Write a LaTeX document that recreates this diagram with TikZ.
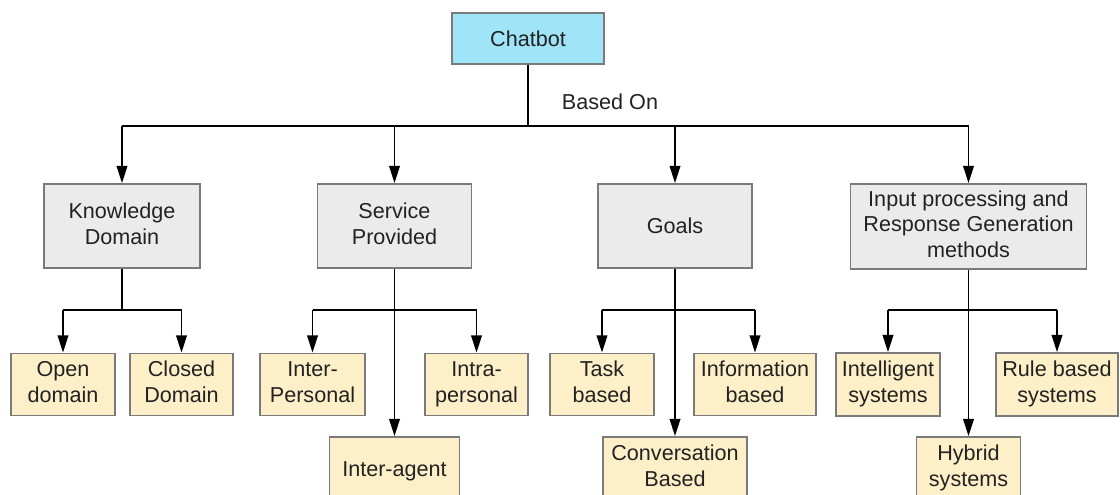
\documentclass[tikz,border=0pt]{standalone}
\usepackage{fontspec}
\setmainfont{Liberation Sans}
\usetikzlibrary{arrows.meta}
\definecolor{topfill}{HTML}{9FE4F7}
\definecolor{midfill}{HTML}{EBEBEB}
\definecolor{leaffill}{HTML}{FDF0C8}
\definecolor{boxline}{HTML}{7A7A7A}
\definecolor{txt}{HTML}{222222}
\newcommand\boxstrut{\rule[-3.9pt]{0pt}{19.2pt}}
\tikzset{
  box/.style={draw=boxline, line width=1.3pt, rectangle, inner sep=0pt, align=center,
    text=txt, font=\fontsize{16.2}{19.2}\selectfont,
    execute at begin node=\boxstrut, execute at end node=\boxstrut},
  topbox/.style={box, fill=topfill},
  midbox/.style={box, fill=midfill},
  leafbox/.style={box, fill=leaffill},
  conn/.style={draw=black, line width=1.4pt},
  arr/.style={conn, -{Triangle[length=13pt,width=8pt]}},
}
\begin{document}
\begin{tikzpicture}[x=0.75pt,y=-0.75pt]
\useasboundingbox (0,0) rectangle (1120,495);
\clip (0,0) rectangle (1120,495);
% top
\node[topbox, minimum width=152*0.75pt, minimum height=51*0.75pt] (chat) at (528,38.5) {Chatbot};
\node[text=txt, font=\fontsize{16.2}{19.2}\selectfont] (basedon) at (610,102) {Based On};
% level 2
\node[midbox, minimum width=156*0.75pt, minimum height=84*0.75pt] (kd) at (122,226) {Knowledge\\Domain};
\node[midbox, minimum width=154*0.75pt, minimum height=84*0.75pt] (sp) at (394.5,226) {Service\\Provided};
\node[midbox, minimum width=154*0.75pt, minimum height=84*0.75pt] (go) at (675,226) {Goals};
\node[midbox, minimum width=236*0.75pt, minimum height=85*0.75pt] (inp) at (968.5,226.5) {Input processing and\\Response Generation\\methods};
% leaves
\node[leafbox, minimum width=104*0.75pt, minimum height=62*0.75pt] (od) at (63,384.5) {Open\\domain};
\node[leafbox, minimum width=103*0.75pt, minimum height=62*0.75pt] (cd) at (181.5,384.5) {Closed\\Domain};
\node[leafbox, minimum width=105*0.75pt, minimum height=62*0.75pt] (ip) at (312.5,384.5) {Inter-\\Personal};
\node[leafbox, minimum width=103*0.75pt, minimum height=62*0.75pt] (ap) at (476.5,384.5) {Intra-\\personal};
\node[leafbox, minimum width=130*0.75pt, minimum height=63*0.75pt] (ia) at (394.5,468.5) {Inter-agent};
\node[leafbox, minimum width=104*0.75pt, minimum height=62*0.75pt] (tb) at (602,384.5) {Task\\based};
\node[leafbox, minimum width=122*0.75pt, minimum height=62*0.75pt] (ib) at (755,384.5) {Information\\based};
\node[leafbox, minimum width=144*0.75pt, minimum height=63*0.75pt] (cb) at (675,468.5) {Conversation\\Based};
\node[leafbox, minimum width=104*0.75pt, minimum height=63*0.75pt] (is) at (888,384.5) {Intelligent\\systems};
\node[leafbox, minimum width=122*0.75pt, minimum height=63*0.75pt] (rb) at (1057,384.5) {Rule based\\systems};
\node[leafbox, minimum width=104*0.75pt, minimum height=63*0.75pt] (hs) at (968.5,468.5) {Hybrid\\systems};
% bus levels
\coordinate (bus) at (528,126);
\coordinate (low) at (0,310);
% top connectors
\draw[conn] (chat.south) -- (chat.south |- bus);
\draw[conn] (kd.north |- bus) -- (inp.north |- bus);
\foreach \n in {kd,sp,go,inp} \draw[arr] (\n.north |- bus) -- (\n.north);
% knowledge
\draw[conn] (kd.south) -- (kd.south |- low);
\draw[conn] (od.north |- low) -- (cd.north |- low);
\draw[arr] (od.north |- low) -- (od.north);
\draw[arr] (cd.north |- low) -- (cd.north);
% service
\draw[arr] (sp.south) -- (ia.north);
\draw[conn] (ip.north |- low) -- (ap.north |- low);
\draw[arr] (ip.north |- low) -- (ip.north);
\draw[arr] (ap.north |- low) -- (ap.north);
% goals
\draw[arr] (go.south) -- (cb.north);
\draw[conn] (tb.north |- low) -- (ib.north |- low);
\draw[arr] (tb.north |- low) -- (tb.north);
\draw[arr] (ib.north |- low) -- (ib.north);
% input
\draw[arr] (inp.south) -- (hs.north);
\draw[conn] (is.north |- low) -- (rb.north |- low);
\draw[arr] (is.north |- low) -- (is.north);
\draw[arr] (rb.north |- low) -- (rb.north);
\end{tikzpicture}
\end{document}
